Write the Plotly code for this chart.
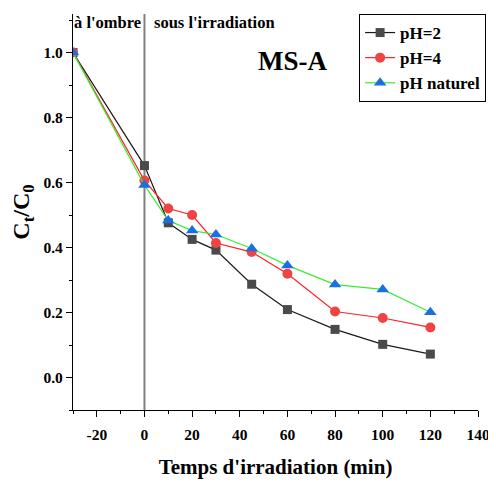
import plotly.graph_objects as go

t_ph2 = [-30, 0, 10, 20, 30, 45, 60, 80, 100, 120]
c_ph2 = [1.0, 0.652, 0.476, 0.425, 0.392, 0.287, 0.209, 0.148, 0.102, 0.072]

t_ph4 = [-30, 0, 10, 20, 30, 45, 60, 80, 100, 120]
c_ph4 = [1.0, 0.606, 0.520, 0.500, 0.414, 0.386, 0.319, 0.203, 0.183, 0.154]

t_nat = [-30, 0, 10, 20, 30, 45, 60, 80, 100, 120]
c_nat = [1.0, 0.592, 0.483, 0.452, 0.440, 0.397, 0.345, 0.286, 0.271, 0.201]

series_names = ["pH=2", "pH=4", "pH naturel"]

x_tickvals = [-20, 0, 20, 40, 60, 80, 100, 120, 140]
x_ticktext = ["-20", "0", "20", "40", "60", "80", "100", "120", "140"]
y_tickvals = [0.0, 0.2, 0.4, 0.6, 0.8, 1.0]
y_ticktext = ["0.0", "0.2", "0.4", "0.6", "0.8", "1.0"]

FONT = "Liberation Serif"

def bfont(size):
    return dict(family=FONT, size=size, color="black", weight="bold")

fig = go.Figure()
fig.add_trace(go.Scatter(x=t_ph2, y=c_ph2, mode="lines+markers", name=series_names[0],
                         line=dict(color="#1a1a1a", width=1.2),
                         marker=dict(symbol="square", size=9, color="#4a4a4a")))
fig.add_trace(go.Scatter(x=t_ph4, y=c_ph4, mode="lines+markers", name=series_names[1],
                         line=dict(color="#ff2020", width=1.2),
                         marker=dict(symbol="circle", size=10, color="#ee4444")))
fig.add_trace(go.Scatter(x=t_nat, y=c_nat, mode="lines+markers", name=series_names[2],
                         line=dict(color="#33ee33", width=1.2),
                         marker=dict(symbol="triangle-up", size=11, color="#1c6fe0")))

fig.add_shape(type="line", x0=0, x1=0, y0=0, y1=1, xref="x", yref="paper",
              line=dict(color="#808080", width=2), layer="below")

fig.add_annotation(x=-15.6, y=1.008, xref="x", yref="paper", yanchor="top", text="<b>à l'ombre</b>",
                   showarrow=False, font=bfont(16.5))
fig.add_annotation(x=29.5, y=1.008, xref="x", yref="paper", yanchor="top", text="<b>sous l'irradiation</b>",
                   showarrow=False, font=bfont(16.5))
fig.add_annotation(x=62, y=0.975, xref="x", yref="y", text="<b>MS-A</b>",
                   showarrow=False, font=bfont(27))

fig.update_layout(
    width=496, height=485,
    margin=dict(l=65, r=26, t=6, b=83),
    paper_bgcolor="white", plot_bgcolor="white",
    font=dict(family=FONT, color="black"),
    legend=dict(x=1.02, y=1.0, xanchor="right", yanchor="top",
                bordercolor="black", borderwidth=1, bgcolor="white",
                font=bfont(17), tracegroupgap=0),
    showlegend=True,
)
fig.update_xaxes(range=[-30, 140], tickmode="array", tickvals=x_tickvals, ticktext=x_ticktext,
                 showline=True, linecolor="black", linewidth=1.3, automargin=False,
                 ticks="outside", ticklen=6, tickcolor="black", showgrid=False, zeroline=False,
                 ticklabelstandoff=4,
                 minor=dict(tickmode="linear", dtick=10, tick0=0, ticks="outside", ticklen=3, tickcolor="black"),
                 tickfont=bfont(15.5),
                 title=dict(text="<b>Temps d'irradiation (min)</b>", standoff=17, font=bfont(21)))
fig.update_yaxes(range=[-0.1, 1.1185], tickmode="array", tickvals=y_tickvals, ticktext=y_ticktext,
                 showline=True, linecolor="black", linewidth=1.3, automargin=False,
                 ticks="outside", ticklen=6, tickcolor="black", showgrid=False, zeroline=False,
                 minor=dict(tickmode="linear", dtick=0.1, tick0=0, ticks="outside", ticklen=3, tickcolor="black"),
                 tickfont=bfont(15.5),
                 title=dict(text="<b>C<sub>t</sub>/C<sub>0</sub></b>", standoff=7, font=bfont(24)))

fig.write_html("out.html")
